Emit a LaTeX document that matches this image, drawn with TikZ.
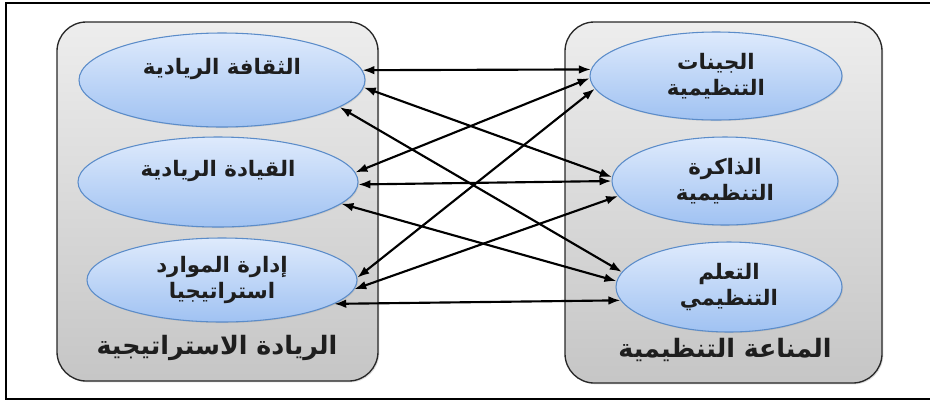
\documentclass[tikz,border=0pt]{standalone}
\usepackage{fontspec}
\newfontfamily\arabicfont[Script=Arabic]{DejaVu Sans}
\TeXXeTstate=1
\usetikzlibrary{shapes.geometric,arrows.meta,shadows}

\tikzset{
  panel/.style={draw={rgb,255:red,40;green,40;blue,40}, line width=1pt, rounded corners=22pt,
    top color=gray!14, bottom color=gray!45, inner sep=0pt,
    drop shadow={opacity=0.25,shadow xshift=1pt,shadow yshift=-1pt}},
  bubble/.style={ellipse, draw={rgb,255:red,91;green,140;blue,201}, line width=0.8pt,
    top color={rgb,255:red,222;green,234;blue,252}, bottom color={rgb,255:red,160;green,194;blue,242},
    inner sep=0pt, align=center, text={rgb,255:red,30;green,30;blue,30},
    font=\arabicfont\bfseries\fontsize{16}{20}\selectfont,
    drop shadow={opacity=0.2,shadow xshift=0.8pt,shadow yshift=-0.8pt}},
  caption/.style={text={rgb,255:red,30;green,30;blue,30}, font=\arabicfont\bfseries\fontsize{19}{22}\selectfont},
  link/.style={{Latex[length=9pt,width=6.5pt]}-{Latex[length=9pt,width=6.5pt]}, line width=1.6pt},
}

\begin{document}
\begin{tikzpicture}[x=0.75pt,y=0.75pt,yscale=-1,xscale=1]
        \useasboundingbox (0,0) rectangle (930,401);

        %Outer frame
        \draw [line width=1.8pt] (940,3) -- (6,3) -- (6,399) -- (940,399) ;

        %Rounded Rect [left]
        \node [panel, minimum width=240.75pt, minimum height=269.25pt] (lead) at (217.5,201.5) {};
        %Rounded Rect [right]
        \node [panel, minimum width=237.75pt, minimum height=270.75pt] (immune) at (723.5,202.5) {};

        %Shape: Ellipse [left]
        \node [bubble, minimum width=214.5pt, minimum height=70.5pt] (culture) at (222,80) {\beginR الثقافة الريادية\endR\\[-6pt] \strut};
        \node [bubble, minimum width=210pt, minimum height=67.5pt] (leadership) at (218,182) {\beginR القيادة الريادية\endR\\[-6pt] \strut};
        \node [bubble, minimum width=202.5pt, minimum height=63pt] (resources) at (222,280) {\beginR إدارة الموارد\endR\\ \beginR استراتيجيا\endR};
        %Shape: Ellipse [right]
        \node [bubble, minimum width=189pt, minimum height=66pt] (genes) at (716,76) {\beginR الجينات\endR\\ \beginR التنظيمية\endR};
        \node [bubble, minimum width=169.5pt, minimum height=66pt] (memory) at (725,181) {\beginR الذاكرة\endR\\ \beginR التنظيمية\endR};
        \node [bubble, minimum width=169.5pt, minimum height=67.5pt] (learning) at (729,287) {\beginR التعلم\endR\\ \beginR التنظيمي\endR};

        %Text
        \node [caption] (leadcap) at (217,348) {\beginR الريادة الاستراتيجية\endR};
        \node [caption] (immunecap) at (725,350) {\beginR المناعة التنظيمية\endR};

        %Straight Lines
        \draw [link] (culture.4) -- (genes.177) ;
        \draw [link] (culture.-3) -- (memory.178) ;
        \draw [link] (culture.-13) -- (learning.172) ;
        \draw [link] (leadership.4) -- (genes.-179) ;
        \draw [link] (leadership.-1) -- (memory.180) ;
        \draw [link] (leadership.-10) -- (learning.177) ;
        \draw [link] (resources.1) -- (genes.-174) ;
        \draw [link] (resources.-4) -- (memory.-172) ;
        \draw [link] (resources.-12) -- (learning.-173) ;

\end{tikzpicture}
\end{document}
